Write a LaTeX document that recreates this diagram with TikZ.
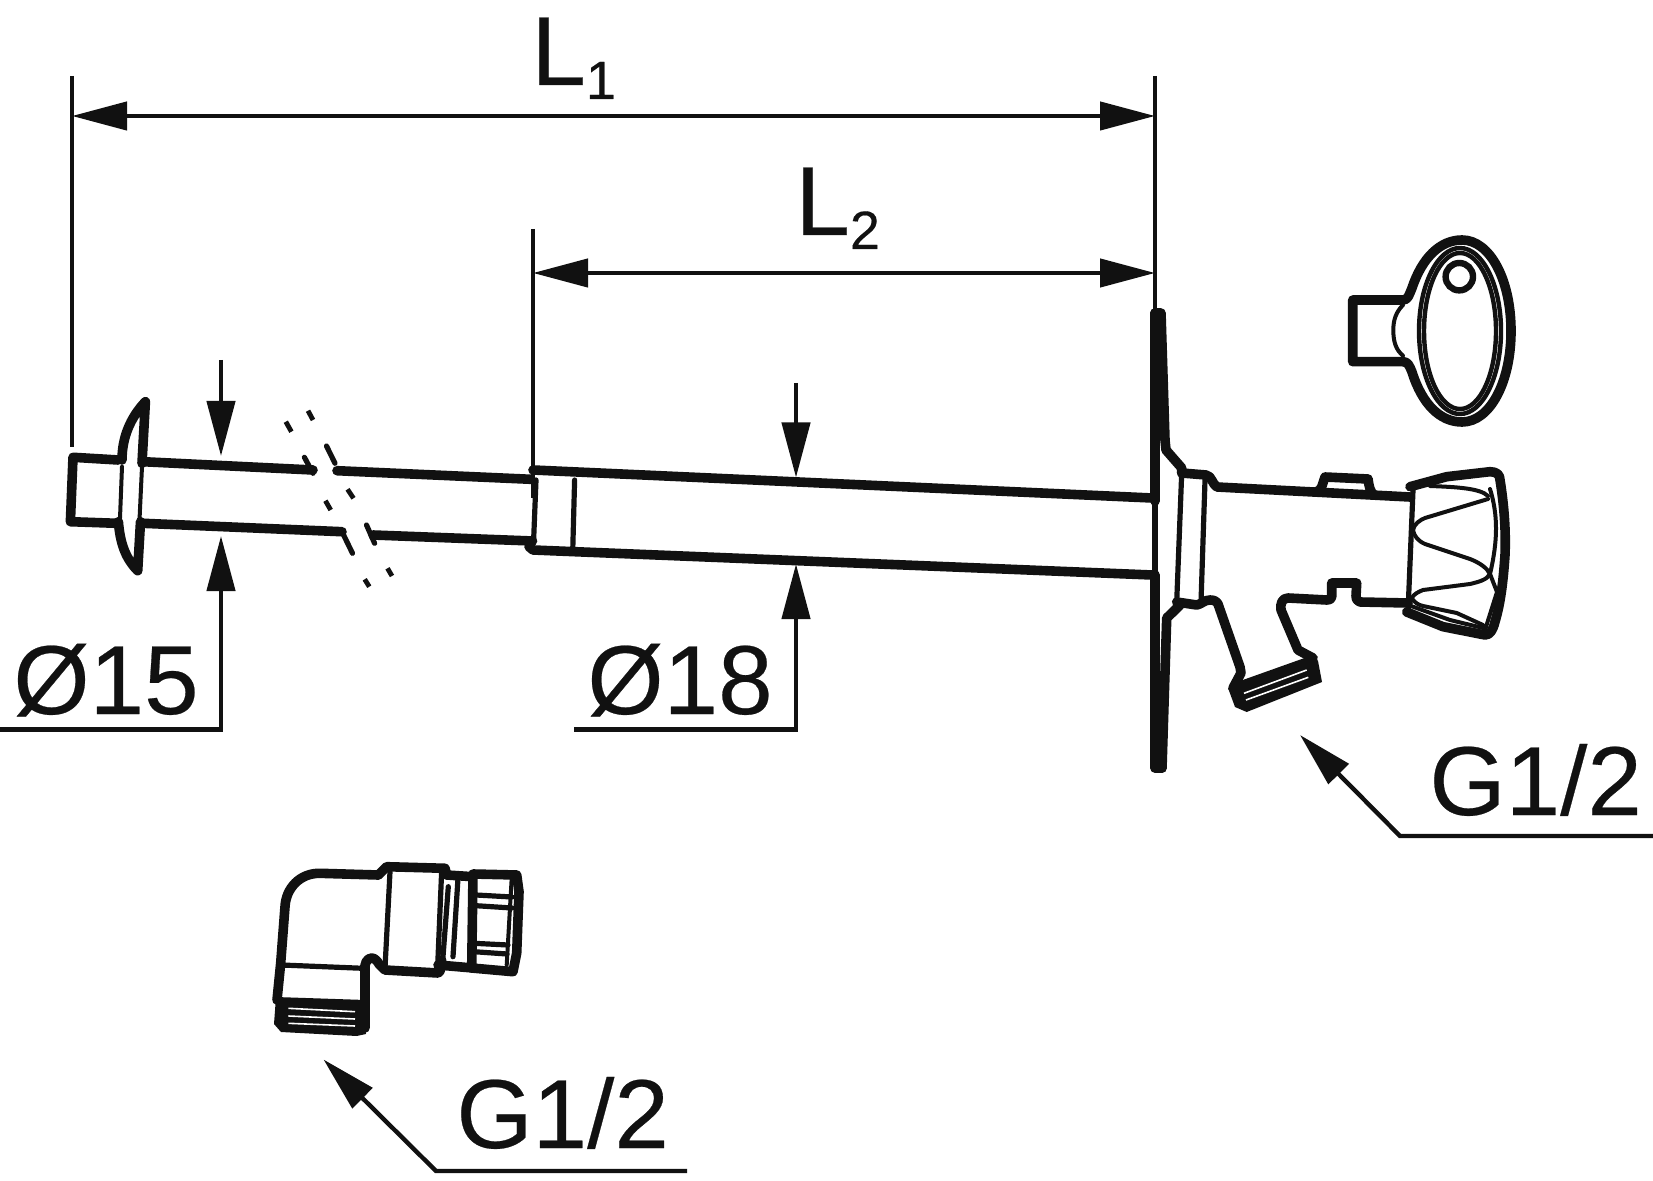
\documentclass[tikz,border=0pt]{standalone}
\usepackage{fontspec}
\setmainfont{Liberation Sans}
\usetikzlibrary{arrows.meta}
\definecolor{ink}{HTML}{111111}
\tikzset{>={Triangle[width=14pt,length=27.5pt]}}
\tikzset{
	heavy/.style = {line width=4.8pt, line join=round, line cap=round},
	medium/.style = {line width=2.6pt, line join=round, line cap=round},
	fine/.style = {line width=2pt, line join=round, line cap=round},
	dimline/.style = {line width=2.2pt, line join=miter},
	bigtext/.style = {inner sep=0pt, anchor=base west, font=\fontsize{49}{50}\selectfont\addfontfeature{FakeBold=0.25}},
	gap/.style = {white, line width=0.8pt},
}
\newcommand{\subnum}[1]{\raisebox{-7pt}{\fontsize{27}{28}\selectfont #1}}
\begin{document}
\begin{tikzpicture}[x=0.5pt, y=-0.5pt, color=ink]
		\useasboundingbox (0,0) rectangle (1653,1181);
		% dimension lines
		\coordinate (extaT) at (72,76);
		\coordinate (extaB) at (72,447);
		\coordinate (extbT) at (1155,76);
		\coordinate (extbB) at (1155,312);
		\coordinate (extcT) at (533,229);
		\coordinate (extcB) at (533,498);
		\coordinate (laL) at (72,116);
		\coordinate (laR) at (1155,116);
		\coordinate (lbL) at (533,273);
		\coordinate (lbR) at (1155,273);
		\draw[dimline] (extaT) -- (extaB);
		\draw[dimline] (extbT) -- (extbB);
		\draw[dimline] (extcT) -- (extcB);
		\draw[dimline, <->] (laL) -- (laR);
		\draw[dimline, <->] (lbL) -- (lbR);
		\node (la) [bigtext] at (531,85) {L\subnum{1}};
		\node (lb) [bigtext] at (795,235) {L\subnum{2}};
		% diameter 15
		\coordinate (daT) at (221,360);
		\coordinate (daA) at (221,456);
		\coordinate (daB) at (221,536);
		\coordinate (daK) at (221,729.5);
		\coordinate (daE) at (0,729.5);
		\draw[dimline, ->] (daT) -- (daA);
		\draw[dimline, ->] (daE) -- (daK) -- (daB);
		\node (da) [bigtext] at (13,714) {Ø15};
		% diameter 18
		\coordinate (dbT) at (796,383);
		\coordinate (dbA) at (796,477.5);
		\coordinate (dbB) at (796,564);
		\coordinate (dbK) at (796,729.5);
		\coordinate (dbE) at (574,729.5);
		\draw[dimline, ->] (dbT) -- (dbA);
		\draw[dimline, ->] (dbE) -- (dbK) -- (dbB);
		\node (db) [bigtext] at (587,714) {Ø18};
		% thread labels
		\coordinate (gaE) at (1653,836);
		\coordinate (gaK) at (1400,836);
		\coordinate (gaA) at (1300,735);
		\coordinate (gbE) at (687,1171);
		\coordinate (gbK) at (436,1171);
		\coordinate (gbA) at (323.5,1059.5);
		\draw[dimline, ->] (gaE) -- (gaK) -- (gaA);
		\draw[dimline, ->] (gbE) -- (gbK) -- (gbA);
		\node (ga) [bigtext] at (1429,815) {G1/2};
		\node (gb) [bigtext] at (456,1148) {G1/2};
		% pipe, left end
		\draw[heavy] (118.4,460) -- (73,457.3) -- (70.4,521.7) -- (116.7,523.3);
		\draw[heavy] (122,460) .. controls (122,438) and (130,418) .. (145.4,401.7) -- (142,463.3);
		\draw[heavy] (118.4,521.7) .. controls (120,542) and (125,558) .. (137.7,570.7) -- (140.5,521.7);
		\draw[fine] (122,466.7) -- (120,518.3);
		\draw[fine] (142,466.7) -- (139.5,520);
		\draw[heavy] (143,461.7) -- (313,470);
		\draw[medium] (304.4,457.3) -- (313,473.3);
		\draw[heavy] (143,523.3) -- (342,531.7);
		\draw[medium] (342,531.7) -- (352.5,553.3);
		\draw[medium] (326.5,446) -- (335,463.3);
		\draw[heavy] (337,470.7) -- (531,479.3);
		\draw[medium] (366.5,525) -- (374.6,543.3);
		\draw[heavy] (373,535) -- (532.5,541);
		\foreach \xa/\ya/\xb/\yb in {285.8/421.7/291.4/431.7, 308/410.7/313/420, 325.4/500.7/330.7/510, 347.5/489.3/353.5/498.3, 364.7/579.3/369.3/586.7, 387.5/568.3/392/576}
			\draw[line width=2.4pt] (\xa,\ya) -- (\xb,\yb);
		% pipe, wide part
		\draw[heavy] (533,470) -- (1152,498);
		\draw[heavy] (529,546.7) -- (533,550) -- (1152,575);
		\draw[medium] (536,480) -- (533.5,543.3);
		\draw[medium] (574.6,480) -- (572.8,548);
		% wall plate
		\draw[heavy] (1155,313) -- (1155,501);
		\draw[medium] (1155,501) -- (1155,575);
		\draw[heavy] (1155,575) -- (1155,768) -- (1162,768);
		\draw[heavy] (1155,313) -- (1161,313) -- (1165,440) -- (1166,450) -- (1181.7,468) -- (1181.7,473);
		\draw[heavy] (1180,605) -- (1173,612) -- (1166.7,618) -- (1162,768);
		% valve body
		\draw[heavy] (1181.7,473) -- (1206,475) .. controls (1212,476) and (1212,484) .. (1217,487) -- (1410,497);
		\draw[heavy] (1316.7,491.7) .. controls (1322,490) and (1322,485) .. (1325,477) -- (1368,479) .. controls (1369,486) and (1370,492) .. (1374,495);
		\draw[medium] (1181.7,473) -- (1176.7,602);
		\draw[medium] (1205,480) -- (1201,602);
		\draw[heavy] (1176.7,602) -- (1196.7,605) .. controls (1202,604) and (1204,600) .. (1210,600) .. controls (1214,600) and (1216,601) .. (1218,604) -- (1240,667) -- (1241,673) -- (1233,688);
		\draw[heavy] (1408,603) -- (1360,602) .. controls (1356,600) and (1356,598) .. (1356,596) -- (1356.7,583) -- (1331.7,583) -- (1331.7,596.7) .. controls (1331,600) and (1328,600) .. (1326.7,600) -- (1288,598) .. controls (1282,598) and (1280,604) .. (1281,610) -- (1298,650) -- (1313,658);
		% hose end
		\fill[ink] (1228,688) -- (1235,707) -- (1246.7,712) -- (1322,682) -- (1318,661) -- (1313,655) -- (1240,681) -- cycle;
		\draw[gap] (1244,693.3) -- (1306.7,670);
		\draw[gap] (1246,700) -- (1308.3,677.3);
		% knob
		\draw[heavy] (1410,486.7) -- (1446.7,476.7) -- (1490,471.7) .. controls (1497,471.7) and (1500,475) .. (1500,480) .. controls (1504,505) and (1506,530) .. (1505,555) .. controls (1503,585) and (1500,605) .. (1495,621.7) .. controls (1493,630) and (1490,635) .. (1485,635) -- (1443,626.7) -- (1406.7,612);
		\draw[medium] (1413,490) -- (1408,612);
		\draw[fine] (1430,486) .. controls (1455,487) and (1480,488) .. (1488,496);
		\draw[fine] (1488,499) -- (1425,518) .. controls (1420,520) and (1414,524) .. (1413,530) .. controls (1414,536) and (1418,541) .. (1425,544) -- (1470,559) .. controls (1480,563) and (1487,568) .. (1490,574) .. controls (1487,580) and (1478,582) .. (1470,584) -- (1423,590) .. controls (1418,592) and (1414,594) .. (1411.7,598) .. controls (1414,602) and (1418,605) .. (1423,606) -- (1456.7,613) -- (1483,625);
		\draw[fine] (1490,489) .. controls (1498,515) and (1498,540) .. (1490,574) -- (1497,592) -- (1485,630);
		\draw[fine] (1411,606) -- (1450,620) -- (1483,628);
		% key
		\draw[heavy] (1403,300) .. controls (1408,300) and (1409,295) .. (1412,288) .. controls (1422,258) and (1440,240) .. (1462,240) .. controls (1490,240) and (1511,280) .. (1511,331) .. controls (1511,382) and (1490,422) .. (1462,422) .. controls (1440,422) and (1422,404) .. (1412,372) .. controls (1409,365) and (1408,362) .. (1403,361.7) -- (1352.7,361.7) -- (1352.7,300) -- cycle;
		\draw[line width=2.2pt] (1460,331) ellipse [x radius=41, y radius=83];
		\draw[line width=2.2pt] (1460,331) ellipse [x radius=36, y radius=78];
		\draw[line width=3.2pt, fill=white] (1459.3,276.7) circle (13.7);
		\draw[fine] (1403,305) .. controls (1396,312) and (1393.3,320) .. (1393.3,330) .. controls (1393.3,342) and (1396,350) .. (1403,355.7);
		% elbow
		\draw[heavy] (378.3,875) -- (386.7,866.7) -- (445,868.3) -- (446.7,875);
		\draw[heavy] (378.3,875) -- (320,873.3) .. controls (300,873) and (286,888) .. (285,906.7) -- (280.7,963) -- (277,1000);
		\draw[medium] (281.7,965) -- (363,968.3);
		\draw[heavy] (365,1028) -- (365,970) .. controls (364,964) and (367,958) .. (371.7,958) .. controls (375,958) and (378,962) .. (379,964) -- (385,970) -- (438,973) .. controls (441,972) and (441.5,966) .. (441.7,960);
		\draw[medium] (390,871.7) -- (385,968);
		\draw[medium] (441.7,870) -- (437.5,970);
		\draw[medium] (448.3,886.7) -- (443,956.7);
		\draw[medium] (458,878) -- (453,956.7);
		\draw[heavy] (446.7,875) -- (473,876.7);
		\draw[heavy] (438,965) -- (473,968);
		\draw[medium] (473,876.7) -- (470,968);
		\draw[heavy] (473,874) -- (516.7,875) -- (519,891.7) -- (516.7,953) -- (513,971.7) -- (471.7,968) -- cycle;
		\draw[fine] (511.7,878) -- (506.7,965);
		\draw[medium] (476,895) -- (512,897);
		\draw[medium] (476,905.7) -- (512,908);
		\draw[medium] (474,943.3) -- (508,945);
		\draw[medium] (474,951.7) -- (507,954);
		% elbow thread
		\fill[ink] (276,997) -- (365.5,1000) -- (366,1034) -- (356.7,1036) -- (281,1032) -- (274,1024) -- cycle;
		\draw[gap] (288.3,1008.3) -- (355,1011.7);
		\draw[gap] (288.3,1016) -- (355,1019);
		\draw[gap] (288.3,1023.3) -- (355,1026);
		\end{tikzpicture}
\end{document}
